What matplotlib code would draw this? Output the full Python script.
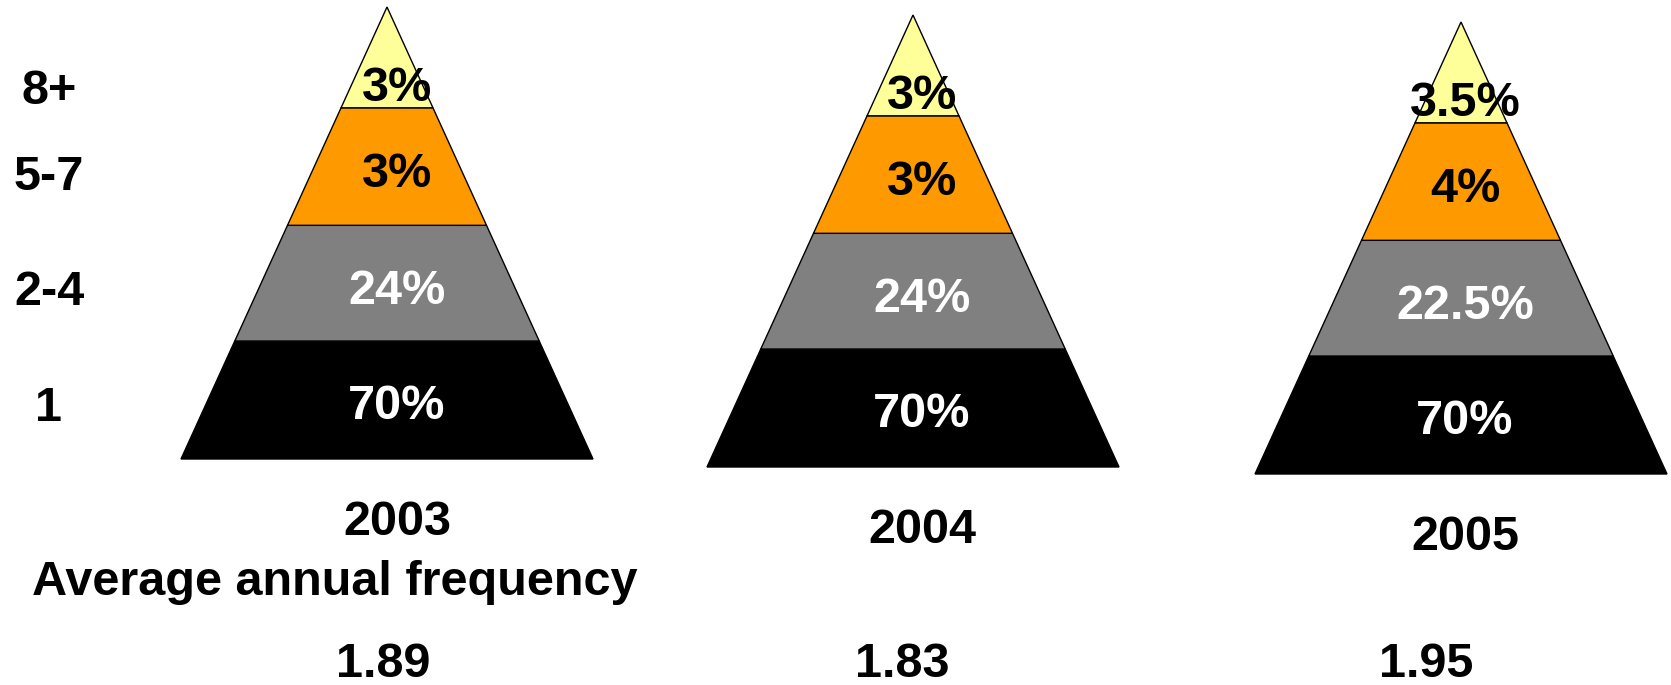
import matplotlib.pyplot as plt

# share of customers by purchase frequency band, bottom layer first
years = ['2003', '2004', '2005']
bands = ['1', '2-4', '5-7', '8+']
share_1 = [70, 70, 70]
share_2_4 = [24, 24, 22.5]
share_5_7 = [3, 3, 4]
share_8_plus = [3, 3, 3.5]
avg_freq = [1.89, 1.83, 1.95]

layer_colors = ['#000000', '#808080', '#FF9900', '#FFFF99']
text_colors = ['white', 'white', 'black', 'black']

# pyramid layout in pixel units (y grows downwards)
W, H = 1671, 685
centers = [387, 913, 1461]
apex_y = [7, 15, 22]
label_dx = [10, 9, 4]
pyr_h = 452
half_base = 206
cuts = [1.0, 0.739, 0.483, 0.223, 0.0]      # layer edges, fraction of height from apex
label_base = [412, 297, 180, 94]            # label baselines below apex
band_y = [421, 305, 190, 104]
freq_x = [383, 902, 1426]

plt.rcParams['font.family'] = ['Liberation Sans', 'DejaVu Sans']
fig = plt.figure(figsize=(W / 100, H / 100), dpi=100)
ax = fig.add_axes([0, 0, 1, 1])
ax.set_xlim(0, W)
ax.set_ylim(H, 0)
ax.axis('off')

shares = [share_1, share_2_4, share_5_7, share_8_plus]
fs = 35

for p in range(3):
    cx, ay = centers[p], apex_y[p]
    for k in range(4):
        f_lo, f_hi = cuts[k], cuts[k + 1]
        y_lo, y_hi = ay + f_lo * pyr_h, ay + f_hi * pyr_h
        w_lo, w_hi = half_base * f_lo, half_base * f_hi
        xs = [cx - w_lo, cx + w_lo, cx + w_hi, cx - w_hi]
        ys = [y_lo, y_lo, y_hi, y_hi]
        ax.fill(xs, ys, color=layer_colors[k], ec='black', lw=1, zorder=1)
        ax.text(cx + label_dx[p], ay + label_base[k], f'{shares[k][p]:g}%',
                ha='center', va='baseline', fontsize=fs, fontweight='bold',
                color=text_colors[k], zorder=3)
    base = ay + pyr_h
    ax.text(cx + label_dx[p], base + 76, years[p], ha='center', va='baseline',
            fontsize=fs, fontweight='bold')
    ax.text(freq_x[p], 677, f'{avg_freq[p]:.2f}', ha='center', va='baseline',
            fontsize=fs, fontweight='bold')

for k in range(4):
    ax.text(49, band_y[k], bands[k], ha='center', va='baseline',
            fontsize=fs, fontweight='bold')

ax.text(335, 595, 'Average annual frequency', ha='center', va='baseline',
        fontsize=fs, fontweight='bold')

fig.savefig('out.png', dpi=100)
